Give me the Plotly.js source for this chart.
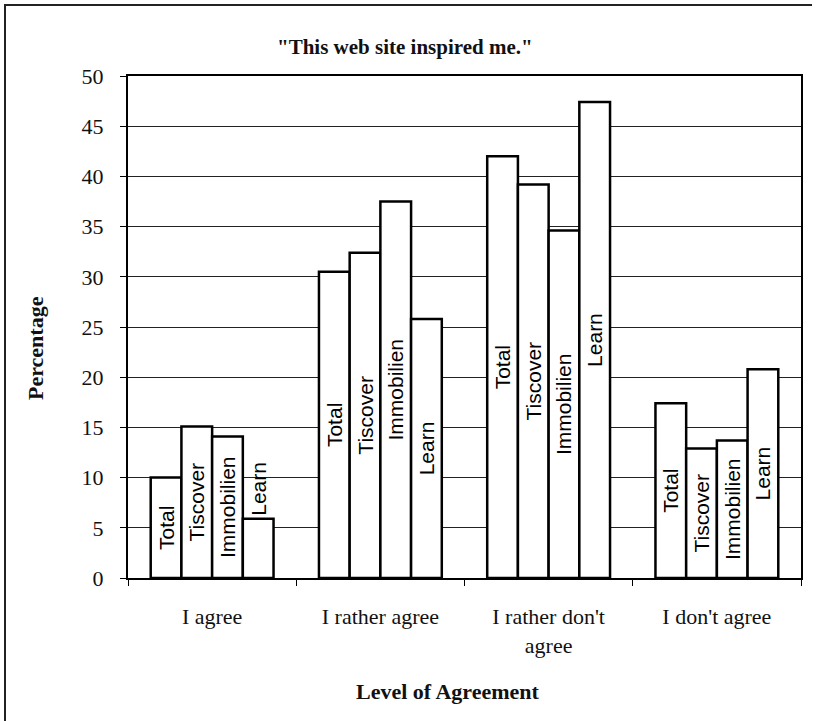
<!DOCTYPE html>
<html>
<head>
<meta charset="utf-8">
<script src="https://cdn.plot.ly/plotly-3.0.1.min.js"></script>
<style>
  html, body { margin: 0; padding: 0; background: #fff; }
  #wrap { position: relative; width: 816px; height: 721px; }
  #chart { position: absolute; left: 0; top: 0; width: 816px; height: 721px; }
  #frameL { position: absolute; left: 4px; top: 4px; width: 2px; height: 717px; background: #222; pointer-events: none; }
  #frameT { position: absolute; left: 4px; top: 4px; width: 808px; height: 2px; background: #222; pointer-events: none; }
</style>
</head>
<body>
<div id="wrap">
  <div id="chart"></div>
  <div id="frameL"></div>
  <div id="frameT"></div>
</div>
<script>
// ---- data ----
const categories = ["I agree", "I rather agree", "I rather don't<br>agree", "I don't agree"];
const seriesNames = ["Total", "Tiscover", "Immobilien", "Learn"];
const totalValues = [10.0, 30.5, 42.0, 17.4];
const tiscoverValues = [15.1, 32.4, 39.2, 12.9];
const immobilienValues = [14.1, 37.5, 34.6, 13.7];
const learnValues = [5.9, 25.8, 47.4, 20.8];
const yTickValues = [0, 5, 10, 15, 20, 25, 30, 35, 40, 45, 50];

const seriesValues = [totalValues, tiscoverValues, immobilienValues, learnValues];

// ---- geometry helpers (plot area in px) ----
const L = 128, R = 15, T = 76, B = 143;
const W = 816, H = 721;
const pw = W - L - R, ph = H - T - B;
const px = x => (x - L) / pw;
const py = y => (H - B - y) / ph;

const serif = "'Liberation Serif', 'Times New Roman', serif";
const sans = "'Liberation Sans', Arial, sans-serif";

const traces = seriesNames.map((name, i) => ({
  type: 'bar',
  name: name,
  x: categories,
  y: seriesValues[i],
  text: categories.map(() => name),
  texttemplate: '%{text}',
  textposition: name === 'Learn' ? ['outside', 'inside', 'inside', 'inside'] : 'inside',
  insidetextanchor: 'middle',
  textangle: -90,
  constraintext: 'none',
  cliponaxis: false,
  textfont: { family: sans, size: 21, color: '#000' },
  insidetextfont: { family: sans, size: 21, color: '#000' },
  outsidetextfont: { family: sans, size: 21, color: '#000' },
  marker: { color: '#fff', line: { color: '#000', width: 2.5 } },
  hoverinfo: 'x+y+name'
}));

const layout = {
  width: W, height: H,
  margin: { l: L, r: R, t: T, b: B, pad: 0 },
  paper_bgcolor: '#fff',
  plot_bgcolor: '#fff',
  showlegend: false,
  barmode: 'group',
  bargap: 0.27,
  bargroupgap: 0,
  xaxis: {
    type: 'category',
    showgrid: false,
    showline: true, linecolor: '#000', linewidth: 2, mirror: true,
    ticks: 'outside', ticklen: 6, tickcolor: '#000', tickson: 'boundaries',
    tickfont: { family: serif, size: 22, color: '#111' },
    ticklabelstandoff: 18,
    zeroline: false
  },
  yaxis: {
    range: [0, 50],
    tickvals: yTickValues,
    ticktext: yTickValues.map(String),
    showgrid: true, gridcolor: '#222', gridwidth: 1,
    showline: true, linecolor: '#000', linewidth: 2, mirror: true,
    ticks: 'outside', ticklen: 6, tickcolor: '#000',
    tickfont: { family: serif, size: 22, color: '#111' },
    ticklabelstandoff: 12,
    zeroline: false
  },
  annotations: [
    {
      text: '<b>"This web site inspired me."</b>',
      xref: 'paper', yref: 'paper', x: px(405), y: py(47),
      xanchor: 'center', yanchor: 'middle', showarrow: false,
      font: { family: serif, size: 21, color: '#111' }
    },
    {
      text: '<b>Level of Agreement</b>',
      xref: 'paper', yref: 'paper', x: px(448), y: py(691),
      xanchor: 'center', yanchor: 'middle', showarrow: false,
      font: { family: serif, size: 22, color: '#111' }
    },
    {
      text: '<b>Percentage</b>',
      xref: 'paper', yref: 'paper', x: px(35), y: py(348),
      xanchor: 'center', yanchor: 'middle', showarrow: false, textangle: -90,
      font: { family: serif, size: 22, color: '#111' }
    }
  ]
};

Plotly.newPlot('chart', traces, layout, { displayModeBar: false, staticPlot: true });
</script>
</body>
</html>
